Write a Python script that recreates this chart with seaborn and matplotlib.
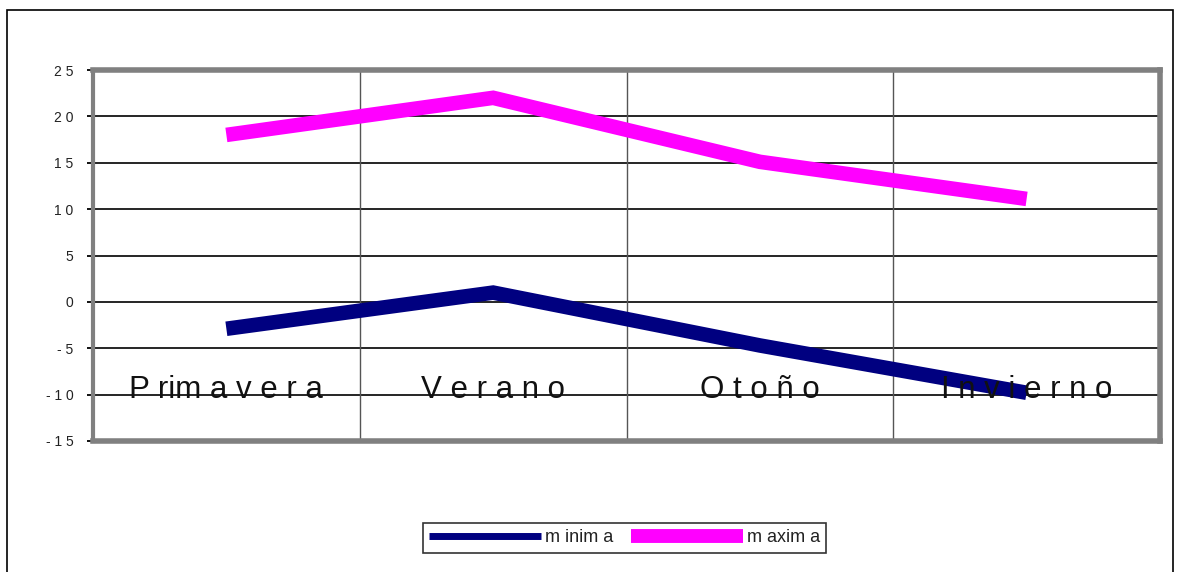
import matplotlib
matplotlib.use("Agg")
import matplotlib.pyplot as plt
import seaborn as sns
import pandas as pd
from matplotlib.patches import Rectangle

categories = ["Primavera", "Verano", "Otoño", "Invierno"]
category_labels = ["P rim a v e r a", "V e r a n o", "O t o ñ o", "I n v i e r n o"]
minima = [-2.9, 1.0, -4.7, -9.8]
maxima = [18.0, 22.0, 15.1, 11.1]
series_names = ["m inim a", "m axim a"]
yticks = [-15, -10, -5, 0, 5, 10, 15, 20, 25]
ytick_labels = ["- 1 5", "- 1 0", "- 5", "0", "5", "1 0", "1 5", "2 0", "2 5"]

sns.set_theme(style="white")
plt.rcParams['font.family'] = ['Liberation Sans', 'DejaVu Sans']

df = pd.DataFrame({
    "estacion": categories * 2,
    "valor": minima + maxima,
    "serie": [series_names[0]] * 4 + [series_names[1]] * 4,
})

fig = plt.figure(figsize=(11.83, 5.72), dpi=100)
ax = fig.add_axes([93/1183, 1-441/572, (1160-93)/1183, (441-70)/572])

sns.lineplot(data=df, x="estacion", y="valor", hue="serie", sort=False,
             palette={series_names[0]: "#000080", series_names[1]: "#FF00FF"},
             linewidth=10.5, ax=ax, legend=True)
for ln in ax.get_lines():
    ln.set_solid_capstyle("butt")
    ln.set_solid_joinstyle("miter")
    ln.set_zorder(3)

ax.set_xlim(-0.5, 3.5)
ax.set_ylim(-15, 25)
ax.set_yticks(yticks)
ax.set_yticklabels(ytick_labels, fontsize=10)
ax.set_xticks([])
ax.set_xlabel("")
ax.set_ylabel("")

for y in yticks[1:-1]:
    ax.axhline(y, color="black", lw=1.2, zorder=1)
for x in [0.5, 1.5, 2.5]:
    ax.axvline(x, color="#555555", lw=1, zorder=1)
ax.axvline(-0.5, color="black", lw=1.5, zorder=2)

for s in ["top", "right", "bottom"]:
    ax.spines[s].set_color("#808080")
    ax.spines[s].set_linewidth(4)
ax.spines["left"].set_color("#808080")
ax.spines["left"].set_linewidth(3)
ax.tick_params(axis="y", direction="out", length=4, width=1.3, color="black",
               left=True, pad=10, labelcolor="#222222")

for i, lab in enumerate(category_labels):
    ax.text(i, -9.45, lab, ha="center", va="center", fontsize=22.5,
            color="#111111", zorder=4)

leg = ax.legend(loc="center", bbox_to_anchor=(624.5/1183, 1-538/572),
                bbox_transform=fig.transFigure, ncol=2, frameon=True,
                fancybox=False, edgecolor="black", fontsize=13,
                handlelength=6.2, columnspacing=1.0, handletextpad=0.2,
                borderpad=0.35, borderaxespad=0)
leg.get_frame().set_linewidth(1.2)
lines = leg.get_lines()
lines[0].set_linewidth(5)
lines[1].set_linewidth(10)
for t in leg.get_texts():
    t.set_color("#222222")

fig.patches.append(Rectangle((7/1183, -0.1), (1173-7)/1183, 1-10/572+0.1,
                             transform=fig.transFigure, fill=False,
                             edgecolor="black", lw=1.2))

fig.savefig("out.png", dpi=100)
